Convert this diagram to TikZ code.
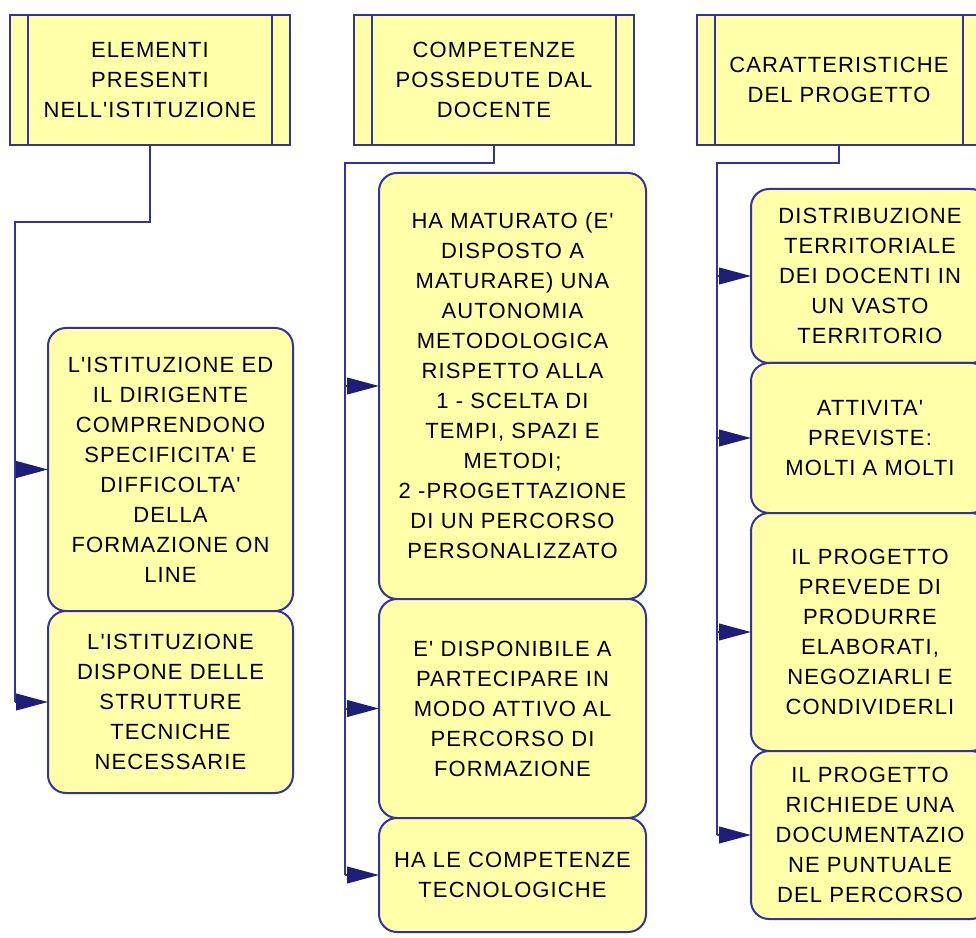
\documentclass[tikz,border=0pt]{standalone}
\usepackage{fontspec}
\newfontfamily\boxfont{Liberation Sans}[LetterSpace=5]
\usetikzlibrary{arrows.meta, positioning}
\definecolor{boxyellow}{RGB}{255,255,170}
\definecolor{linenavy}{RGB}{51,51,153}
\definecolor{tipnavy}{RGB}{30,30,120}

\tikzset{
    box text/.style={font=\boxfont\fontsize{16.5}{22.5}\selectfont, align=center, text=black},
    head/.style={box text, draw=linenavy, fill=boxyellow, line width=1.5pt,
        minimum width=210pt, minimum height=97.5pt, outer sep=0pt},
    item/.style={box text, draw=linenavy, fill=boxyellow, line width=1.5pt,
        rounded corners=13.5pt, inner sep=2pt, outer sep=0pt},
    trunk/.style={draw=linenavy, line width=1.5pt},
    branch/.style={trunk, -{Triangle[length=24pt, width=12.5pt, color=tipnavy]}},
}

\begin{document}
\begin{tikzpicture}[x=0.75pt, y=-0.75pt, node distance=0pt,
        elembox/.style={item, minimum width=183.75pt},
        compbox/.style={item, minimum width=200.25pt},
        carabox/.style={item, minimum width=178.5pt}]
    \useasboundingbox (0,0) rectangle (976,938);
    \clip (0,0) rectangle (976,938);

    % Draw the headers
    \node[head]                       (elem) at (150,80) {ELEMENTI\\PRESENTI\\NELL'ISTITUZIONE};
    \node[head]                       (comp) at (494,80) {COMPETENZE\\POSSEDUTE DAL\\DOCENTE};
    \node[head, minimum width=213pt]  (cara) at (839,80) {CARATTERISTICHE\\DEL PROGETTO};

    \draw[trunk] ([xshift=13.5pt]elem.north west) -- ([xshift=13.5pt]elem.south west);
    \draw[trunk] ([xshift=-13.5pt]elem.north east) -- ([xshift=-13.5pt]elem.south east);
    \draw[trunk] ([xshift=13.5pt]comp.north west) -- ([xshift=13.5pt]comp.south west);
    \draw[trunk] ([xshift=-13.5pt]comp.north east) -- ([xshift=-13.5pt]comp.south east);
    \draw[trunk] ([xshift=13.5pt]cara.north west) -- ([xshift=13.5pt]cara.south west);
    \draw[trunk] ([xshift=-13.5pt]cara.north east) -- ([xshift=-13.5pt]cara.south east);

    % Draw the boxes
    \node[elembox, anchor=north west, minimum height=212.25pt] (istit) at (48,328)
        {L'ISTITUZIONE ED\\IL DIRIGENTE\\COMPRENDONO\\SPECIFICITA' E\\DIFFICOLTA'\\DELLA\\FORMAZIONE ON\\LINE};
    \node[elembox, below=of istit, minimum height=136.5pt] (strut)
        {L'ISTITUZIONE\\DISPONE DELLE\\STRUTTURE\\TECNICHE\\NECESSARIE};

    \node[compbox, anchor=north west, minimum height=319.5pt] (matur) at (379,173)
        {HA MATURATO (E'\\DISPOSTO A\\MATURARE) UNA\\AUTONOMIA\\METODOLOGICA\\RISPETTO ALLA\\1 - SCELTA DI\\TEMPI, SPAZI E\\METODI;\\2 -PROGETTAZIONE\\DI UN PERCORSO\\PERSONALIZZATO};
    \node[compbox, below=of matur, minimum height=164.25pt] (dispo)
        {E' DISPONIBILE A\\PARTECIPARE IN\\MODO ATTIVO AL\\PERCORSO DI\\FORMAZIONE};
    \node[compbox, below=of dispo, minimum height=85.5pt] (tecno)
        {HA LE COMPETENZE\\TECNOLOGICHE};

    \node[carabox, anchor=north west, minimum height=130.5pt] (distr) at (751,189)
        {DISTRIBUZIONE\\TERRITORIALE\\DEI DOCENTI IN\\UN VASTO\\TERRITORIO};
    \node[carabox, below=of distr, minimum height=112.5pt] (attiv)
        {ATTIVITA'\\PREVISTE:\\MOLTI A MOLTI};
    \node[carabox, below=of attiv, minimum height=178.5pt] (produ)
        {IL PROGETTO\\PREVEDE DI\\PRODURRE\\ELABORATI,\\NEGOZIARLI E\\CONDIVIDERLI};
    \node[carabox, below=of produ, minimum height=126pt] (docum)
        {IL PROGETTO\\RICHIEDE UNA\\DOCUMENTAZIO\\NE PUNTUALE\\DEL PERCORSO};

    % Connect the headers with the boxes
    \coordinate (t1) at (15,222);
    \coordinate (t2) at (345,163);
    \coordinate (t3) at (717,163);

    \draw[trunk] (elem.south) |- (t1) -- (t1 |- strut.west);
    \draw[branch] (t1 |- istit.west) -- (istit.west);
    \draw[branch] (t1 |- strut.west) -- (strut.west);

    \draw[trunk] (comp.south) |- (t2) -- (t2 |- tecno.west);
    \draw[branch] (t2 |- matur.west) -- (matur.west);
    \draw[branch] (t2 |- dispo.west) -- (dispo.west);
    \draw[branch] (t2 |- tecno.west) -- (tecno.west);

    \draw[trunk] (cara.south) |- (t3) -- (t3 |- docum.west);
    \draw[branch] (t3 |- distr.west) -- (distr.west);
    \draw[branch] (t3 |- attiv.west) -- (attiv.west);
    \draw[branch] (t3 |- produ.west) -- (produ.west);
    \draw[branch] (t3 |- docum.west) -- (docum.west);
\end{tikzpicture}
\end{document}
